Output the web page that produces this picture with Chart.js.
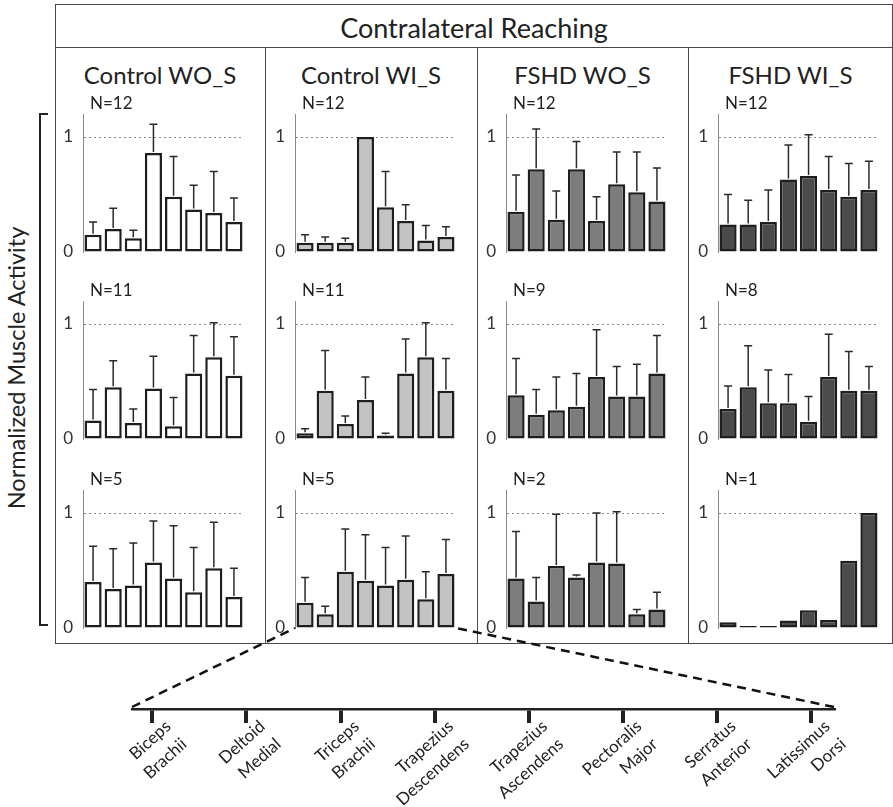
<!DOCTYPE html>
<html>
<head>
<meta charset="utf-8">
<script src="https://cdn.jsdelivr.net/npm/chart.js@4.4.1/dist/chart.umd.min.js"></script>
<style>
  html, body { margin: 0; padding: 0; background: #fff; }
  body { width: 893px; height: 807px; position: relative; overflow: hidden;
         font-family: Lato, 'Open Sans', sans-serif; color: #222; }
  .line { position: absolute; background: #484848; }
  .hdr { position: absolute; text-align: center; white-space: nowrap; line-height: 1; }
  canvas { position: absolute; }
  #ytitle { position: absolute; left: 16px; top: 368px; font-size: 23.5px; white-space: nowrap;
            transform: translate(-50%, -50%) rotate(-90deg); }
  #overlay { position: absolute; left: 0; top: 0; pointer-events: none; }
</style>
</head>
<body>

<!-- frame -->
<div class="line" style="left:55px; top:4px; width:838px; height:1px;"></div>
<div class="line" style="left:55px; top:47px; width:838px; height:1px;"></div>
<div class="line" style="left:55px; top:643px; width:838px; height:1px;"></div>
<div class="line" style="left:55px; top:4px; width:1px; height:640px;"></div>
<div class="line" style="left:892px; top:4px; width:1px; height:640px;"></div>
<div class="line" style="left:265px; top:47px; width:1px; height:597px;"></div>
<div class="line" style="left:477px; top:47px; width:1px; height:597px;"></div>
<div class="line" style="left:688px; top:47px; width:1px; height:597px;"></div>

<div class="hdr" style="left:55px; width:838px; top:14px; font-size:27px;">Contralateral Reaching</div>
<div class="hdr" style="left:55px; width:210px; top:63px; font-size:24px;">Control WO_S</div>
<div class="hdr" style="left:265px; width:212px; top:63px; font-size:24px;">Control WI_S</div>
<div class="hdr" style="left:477px; width:211px; top:63px; font-size:24px;">FSHD WO_S</div>
<div class="hdr" style="left:688px; width:205px; top:63px; font-size:24px;">FSHD WI_S</div>

<!-- left bracket and axis title -->
<div class="line" style="left:39px; top:113px; width:2px; height:513px; background:#222;"></div>
<div class="line" style="left:39px; top:113px; width:9px; height:2px; background:#222;"></div>
<div class="line" style="left:39px; top:624px; width:9px; height:2px; background:#222;"></div>
<div id="ytitle">Normalized Muscle Activity</div>

<div id="panels"></div>
<canvas id="muscleAxis" width="893" height="167" style="left:0; top:640px;"></canvas>
<svg id="overlay" width="893" height="807"></svg>

<script>
const FONT = "Lato, 'Open Sans', sans-serif";

const muscles = [
  ['Biceps', 'Brachii'], ['Deltoid', 'Medial'], ['Triceps', 'Brachii'],
  ['Trapezius', 'Descendens'], ['Trapezius', 'Ascendens'], ['Pectoralis', 'Major'],
  ['Serratus', 'Anterior'], ['Latissimus', 'Dorsi']
];
const groups = ['Control WO_S', 'Control WI_S', 'FSHD WO_S', 'FSHD WI_S'];
const groupFill = ['#ffffff', '#c3c3c3', '#7b7c7e', '#4b4b4d'];
const yTicks = [0, 1];

// subjects per panel, rows top to bottom, columns in group order
const counts = [
  [12, 12, 12, 12],
  [11, 11, 9, 8],
  [5, 5, 2, 1]
];

// mean normalized activity, one array per row
const ctrlWO_mean = [
  [0.15, 0.20, 0.12, 0.86, 0.48, 0.37, 0.34, 0.26],
  [0.16, 0.45, 0.14, 0.44, 0.11, 0.57, 0.71, 0.55],
  [0.40, 0.34, 0.37, 0.57, 0.43, 0.31, 0.52, 0.27]
];
const ctrlWO_sd = [
  [0.11, 0.18, 0.07, 0.25, 0.35, 0.21, 0.36, 0.21],
  [0.27, 0.23, 0.12, 0.28, 0.25, 0.33, 0.30, 0.34],
  [0.31, 0.35, 0.37, 0.36, 0.46, 0.39, 0.40, 0.25]
];

const ctrlWI_mean = [
  [0.08, 0.08, 0.08, 1.00, 0.39, 0.27, 0.10, 0.13],
  [0.05, 0.42, 0.13, 0.34, 0.03, 0.57, 0.71, 0.42],
  [0.22, 0.12, 0.49, 0.41, 0.37, 0.42, 0.25, 0.47]
];
const ctrlWI_sd = [
  [0.07, 0.05, 0.04, null, 0.31, 0.14, 0.13, 0.09],
  [0.04, 0.35, 0.07, 0.20, 0.02, 0.30, 0.30, 0.28],
  [0.22, 0.07, 0.37, 0.40, 0.33, 0.38, 0.24, 0.30]
];

const fshdWO_mean = [
  [0.35, 0.72, 0.28, 0.72, 0.27, 0.59, 0.52, 0.44],
  [0.38, 0.21, 0.25, 0.28, 0.54, 0.37, 0.37, 0.57],
  [0.43, 0.23, 0.54, 0.44, 0.57, 0.56, 0.12, 0.16]
];
const fshdWO_sd = [
  [0.32, 0.35, 0.25, 0.24, 0.21, 0.28, 0.35, 0.29],
  [0.32, 0.22, 0.29, 0.29, 0.41, 0.26, 0.28, 0.33],
  [0.41, 0.21, 0.45, 0.02, 0.43, 0.45, 0.04, 0.15]
];

const fshdWI_mean = [
  [0.24, 0.24, 0.26, 0.63, 0.66, 0.54, 0.48, 0.54],
  [0.26, 0.45, 0.31, 0.31, 0.15, 0.54, 0.42, 0.42],
  [0.05, 0.006, 0.006, 0.065, 0.155, 0.07, 0.585, 1.00]
];
const fshdWI_sd = [
  [0.26, 0.21, 0.28, 0.30, 0.36, 0.29, 0.29, 0.25],
  [0.20, 0.36, 0.29, 0.25, 0.22, 0.37, 0.34, 0.21],
  [null, null, null, null, null, null, null, null]
];

const panelMeans = [ctrlWO_mean, ctrlWI_mean, fshdWO_mean, fshdWI_mean];
const panelSds = [ctrlWO_sd, ctrlWI_sd, fshdWO_sd, fshdWI_sd];

// canvas placement for the 3x4 grid
const colLeft = [54, 266, 477, 689];
const rowTop = [90, 277, 466];
const PANEL_W = 211, PANEL_H = 184;

// whiskers: mean + SD, drawn upward from the bar top
const errorBars = {
  id: 'errorBars',
  afterDatasetsDraw(chart) {
    const ds = chart.data.datasets[0];
    const meta = chart.getDatasetMeta(0);
    const y = chart.scales.y;
    const ctx = chart.ctx;
    ctx.save();
    ctx.strokeStyle = '#2a2a2a';
    ctx.lineWidth = 1.5;
    meta.data.forEach((bar, i) => {
      const sd = ds.sd[i];
      if (sd == null) return;
      const y0 = y.getPixelForValue(ds.data[i]);
      const y1 = y.getPixelForValue(ds.data[i] + sd);
      ctx.beginPath();
      ctx.moveTo(bar.x, y0 - 1);
      ctx.lineTo(bar.x, y1);
      ctx.moveTo(bar.x - 4, y1);
      ctx.lineTo(bar.x + 4, y1);
      ctx.stroke();
    });
    ctx.restore();
  }
};

// "N=.." label above the plot
const nLabel = {
  id: 'nLabel',
  afterDraw(chart, args, opts) {
    const ctx = chart.ctx;
    ctx.save();
    ctx.font = '17px ' + FONT;
    ctx.fillStyle = '#222';
    ctx.textBaseline = 'middle';
    ctx.fillText(opts.text, chart.chartArea.left + 7, chart.chartArea.top - 10);
    ctx.restore();
  }
};

const charts = [];
const host = document.getElementById('panels');

for (let r = 0; r < 3; r++) {
  charts[r] = [];
  for (let c = 0; c < 4; c++) {
    const cv = document.createElement('canvas');
    cv.width = PANEL_W;
    cv.height = PANEL_H;
    cv.style.left = colLeft[c] + 'px';
    cv.style.top = rowTop[r] + 'px';
    host.appendChild(cv);

    charts[r][c] = new Chart(cv.getContext('2d'), {
      type: 'bar',
      data: {
        labels: muscles.map(m => m.join(' ')),
        datasets: [{
          data: panelMeans[c][r],
          sd: panelSds[c][r],
          backgroundColor: groupFill[c],
          borderColor: '#1e1e1e',
          borderWidth: 2.5,
          borderSkipped: false,
          minBarLength: 2,
          barPercentage: 0.85,
          categoryPercentage: 1,
        }],
      },
      options: {
        animation: false,
        responsive: false,
        devicePixelRatio: 1,
        // top/bottom padding kept larger than the tick label overflow
        layout: { padding: { left: 0, right: 21, top: 24, bottom: 22 } },
        plugins: {
          legend: { display: false },
          tooltip: { enabled: false },
          nLabel: { text: 'N=' + counts[r][c] },
        },
        scales: {
          x: { display: false },
          y: {
            min: 0,
            max: 1.2,
            afterBuildTicks: s => { s.ticks = yTicks.map(v => ({ value: v })); },
            afterFit: s => { s.width = 29; },
            ticks: { font: { family: FONT, size: 17 }, color: '#333', padding: 10 },
            grid: {
              drawTicks: false,
              lineWidth: 1,
              color: ctx => (ctx.tick && ctx.tick.value === 1 ? '#8a8a8a' : 'rgba(0,0,0,0)'),
            },
            border: { display: true, color: '#8a8a8a', width: 1, dash: [2, 3] },
          },
        },
      },
      plugins: [errorBars, nLabel],
    });
  }
}

// expanded muscle axis under the grid
const axisChart = new Chart(document.getElementById('muscleAxis').getContext('2d'), {
  type: 'scatter',
  data: { datasets: [] },
  options: {
    animation: false,
    responsive: false,
    devicePixelRatio: 1,
    layout: { padding: { left: 132, right: 59, top: 0, bottom: 0 } },
    plugins: { legend: { display: false }, tooltip: { enabled: false } },
    scales: {
      y: { display: false },
      x: {
        type: 'linear',
        min: -0.215,
        max: 7.24,
        afterBuildTicks: s => { s.ticks = muscles.map((m, i) => ({ value: i })); },
        afterFit: s => { s.height = 98; },
        grid: { drawOnChartArea: false, drawTicks: true, tickLength: 14, lineWidth: 4, color: '#222' },
        border: { color: '#222', width: 2.5 },
        ticks: {
          autoSkip: false,
          minRotation: 42,
          maxRotation: 42,
          padding: -8,
          labelOffset: 16,
          color: '#222',
          font: { family: FONT, size: 17, lineHeight: 1.4 },
          callback: v => muscles[v],
        },
      },
    },
  },
});

// dashed zoom lines from the Control WI_S (N=5) panel to the muscle axis
(function drawZoomLines() {
  const src = charts[2][1];
  const sa = src.chartArea;
  const sx = colLeft[1], sy = rowTop[2];
  const aa = axisChart.chartArea;
  const ay = 640 + aa.bottom - 2;
  const svg = document.getElementById('overlay');
  const segs = [
    [aa.left, ay, sx + sa.left, sy + sa.bottom],
    [aa.right, ay, sx + sa.right, sy + sa.bottom],
  ];
  segs.forEach(([x1, y1, x2, y2]) => {
    const ln = document.createElementNS('http://www.w3.org/2000/svg', 'line');
    ln.setAttribute('x1', x1); ln.setAttribute('y1', y1);
    ln.setAttribute('x2', x2); ln.setAttribute('y2', y2);
    ln.setAttribute('stroke', '#111');
    ln.setAttribute('stroke-width', '2.5');
    ln.setAttribute('stroke-dasharray', '9 6');
    svg.appendChild(ln);
  });
})();
</script>
</body>
</html>
